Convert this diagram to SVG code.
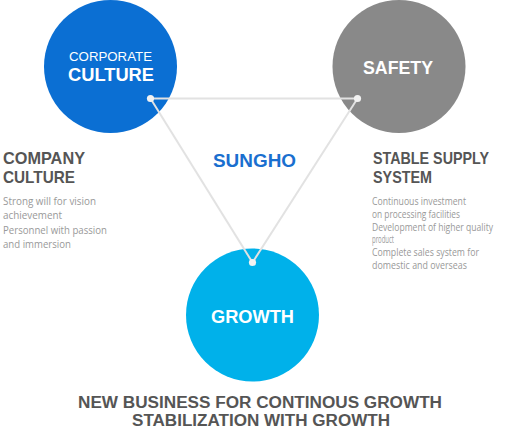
<svg xmlns="http://www.w3.org/2000/svg" width="522" height="439" viewBox="0 0 522 439">
<style>
.h{font-family:"Liberation Sans",Arial,sans-serif;font-weight:bold;}
.w{fill:#ffffff;}
.g{fill:#555555;}
.s{font-family:"Open Sans","Liberation Sans",sans-serif;font-size:10.5px;fill:#999999;}
.conn line{stroke:#e2e2e2;stroke-width:2;}
.dot{fill:#f2f2f2;}
</style>
<rect width="522" height="439" fill="#ffffff"/>
<g id="node-corporate">
<circle cx="110.5" cy="66.5" r="66.5" fill="#0b6fd3"/>
<text class="h w" x="110.5" y="61" font-size="13.5" text-anchor="middle" textLength="83" lengthAdjust="spacingAndGlyphs" style="font-weight:normal">CORPORATE</text>
<text class="h w" x="111" y="81" font-size="19" text-anchor="middle" textLength="86" lengthAdjust="spacingAndGlyphs">CULTURE</text>
</g>
<g id="node-safety">
<circle cx="399" cy="66.5" r="66.5" fill="#898989"/>
<text class="h w" x="398" y="74" font-size="19" text-anchor="middle" textLength="70" lengthAdjust="spacingAndGlyphs">SAFETY</text>
</g>
<g id="node-growth">
<circle cx="252.5" cy="315" r="66.5" fill="#00b1ea"/>
<text class="h w" x="252.5" y="323" font-size="19" text-anchor="middle" textLength="83" lengthAdjust="spacingAndGlyphs">GROWTH</text>
</g>
<g id="connectors" class="conn">
<line x1="150.5" y1="98.5" x2="357.5" y2="98.5"/>
<line x1="150.5" y1="98.5" x2="252.5" y2="262.5"/>
<line x1="357.5" y1="98.5" x2="252.5" y2="262.5"/>
<circle class="dot" cx="150.5" cy="98.5" r="3.6"/>
<circle class="dot" cx="357.5" cy="98.5" r="3.6"/>
<circle class="dot" cx="252.5" cy="262.5" r="3.6"/>
</g>
<g id="label-sungho">
<text class="h" x="254.5" y="167" font-size="19" fill="#1a6fcf" text-anchor="middle" textLength="83" lengthAdjust="spacingAndGlyphs">SUNGHO</text>
</g>
<g id="label-company">
<text class="h g" x="3" y="164" font-size="17" textLength="82" lengthAdjust="spacingAndGlyphs">COMPANY</text>
<text class="h g" x="3" y="183" font-size="17" textLength="72" lengthAdjust="spacingAndGlyphs">CULTURE</text>
<text class="s" x="3" y="205" textLength="93" lengthAdjust="spacingAndGlyphs">Strong will for vision</text>
<text class="s" x="3" y="219" textLength="59" lengthAdjust="spacingAndGlyphs">achievement</text>
<text class="s" x="3" y="233.5" textLength="104" lengthAdjust="spacingAndGlyphs">Personnel with passion</text>
<text class="s" x="3" y="248" textLength="68" lengthAdjust="spacingAndGlyphs">and immersion</text>
</g>
<g id="label-stable">
<text class="h g" x="373" y="164" font-size="17" textLength="116" lengthAdjust="spacingAndGlyphs">STABLE SUPPLY</text>
<text class="h g" x="373" y="183" font-size="17" textLength="59" lengthAdjust="spacingAndGlyphs">SYSTEM</text>
<text class="s" x="372" y="205" font-size="10" textLength="94" lengthAdjust="spacingAndGlyphs">Continuous investment</text>
<text class="s" x="372" y="217.8" font-size="10" textLength="88" lengthAdjust="spacingAndGlyphs">on processing facilities</text>
<text class="s" x="372" y="230.6" font-size="10" textLength="121" lengthAdjust="spacingAndGlyphs">Development of higher quality</text>
<text class="s" x="372" y="243.4" font-size="10" textLength="22" lengthAdjust="spacingAndGlyphs">product</text>
<text class="s" x="372" y="256.2" font-size="10" textLength="107" lengthAdjust="spacingAndGlyphs">Complete sales system for</text>
<text class="s" x="372" y="269" font-size="10" textLength="95" lengthAdjust="spacingAndGlyphs">domestic and overseas</text>
</g>
<g id="label-bottom">
<text class="h g" x="260" y="407.5" font-size="16" text-anchor="middle" textLength="364" lengthAdjust="spacingAndGlyphs">NEW BUSINESS FOR CONTINOUS GROWTH</text>
<text class="h g" x="261" y="426" font-size="16" text-anchor="middle" textLength="258" lengthAdjust="spacingAndGlyphs">STABILIZATION WITH GROWTH</text>
</g>
</svg>
